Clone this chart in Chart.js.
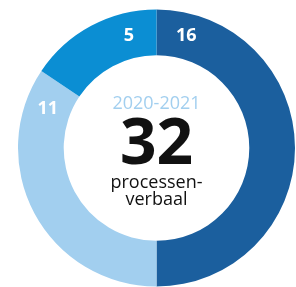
<!DOCTYPE html>
<html>
<head>
<meta charset="utf-8">
<script src="https://cdn.jsdelivr.net/npm/chart.js@4/dist/chart.umd.min.js"></script>
<style>
  html, body { margin: 0; padding: 0; background: #fff; }
  #wrap { position: relative; width: 296px; height: 287px; }
</style>
</head>
<body>
<div id="wrap"><canvas id="chart"></canvas></div>
<script>
// data
const categories = ["A", "B", "C"];
const values = [16, 11, 5];
const totalLabel = "32";
const periodLabel = "2020-2021";
const unitLines = ["processen-", "verbaal"];

const colors = ["#1b5f9e", "#a2cfef", "#0b8ed3"];
const FONT = "'Open Sans', sans-serif";

// draws the value on each ring segment and the text in the hole
const doughnutText = {
    id: "doughnutText",
    afterDatasetsDraw(chart) {
        const ctx = chart.ctx;
        const arcs = chart.getDatasetMeta(0).data;
        ctx.save();
        ctx.textAlign = "center";
        ctx.textBaseline = "middle";
        ctx.fillStyle = "#fff";
        ctx.font = "bold 18px " + FONT;
        arcs.forEach((arc, i) => {
            const r = (arc.innerRadius + arc.outerRadius) / 2;
            // labels sit close to the upper boundary of each segment
            const a = i === 0 ? arc.startAngle + 0.26 : arc.endAngle - 0.24;
            ctx.fillText(String(values[i]), arc.x + Math.cos(a) * r, arc.y + Math.sin(a) * r);
        });

        const cx = arcs[0].x, cy = arcs[0].y;
        ctx.textBaseline = "alphabetic";
        ctx.fillStyle = "#a2cfef";
        ctx.font = "18px " + FONT;
        ctx.fillText(periodLabel, cx, cy - 39);
        ctx.fillStyle = "#111";
        ctx.font = "bold 64px " + FONT;
        ctx.fillText(totalLabel, cx, cy + 16);
        ctx.font = "18px " + FONT;
        ctx.fillText(unitLines[0], cx, cy + 40);
        ctx.fillText(unitLines[1], cx, cy + 57);
        ctx.restore();
    },
};

new Chart(document.getElementById("chart"), {
    type: "doughnut",
    data: {
        labels: categories,
        datasets: [{
            data: values,
            backgroundColor: colors,
            borderWidth: 0,
        }],
    },
    options: {
        responsive: true,
        maintainAspectRatio: false,
        animation: false,
        cutout: "67%",
        layout: { padding: { left: 18, right: 1, top: 9, bottom: 0 } },
        plugins: {
            legend: { display: false },
            tooltip: { enabled: false },
        },
    },
    plugins: [doughnutText],
});
</script>
</body>
</html>
